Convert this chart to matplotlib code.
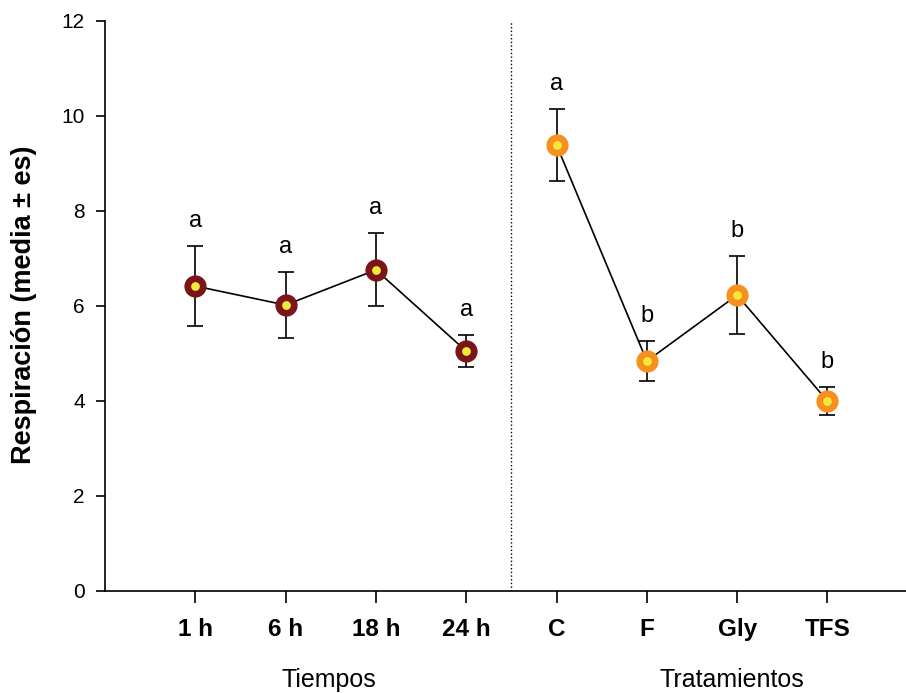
import matplotlib.pyplot as plt
import numpy as np

plt.rcParams['font.family'] = ['Liberation Sans', 'DejaVu Sans']

# datos
categorias = ["1 h", "6 h", "18 h", "24 h", "C", "F", "Gly", "TFS"]
tiempos_media = [6.42, 6.02, 6.76, 5.05]
tiempos_es = [0.85, 0.69, 0.77, 0.34]
trat_media = [9.39, 4.84, 6.23, 4.00]
trat_es = [0.75, 0.42, 0.83, 0.29]
letras_tiempos = ["a", "a", "a", "a"]
letras_trat = ["a", "b", "b", "b"]

fig = plt.figure(figsize=(9.06, 6.93), dpi=100)
ax = fig.add_axes([0.1159, 0.1472, 0.8841, 0.8225])

x_t = np.arange(1, 5)
x_r = np.arange(5, 9)

def grupo(x, media, es, color, letras):
    ax.errorbar(x, media, yerr=es, color='black', lw=1.2, capsize=6, capthick=1.2,
                zorder=2)
    ax.plot(x, media, 'o', ms=16, mfc=color, mec='none', zorder=3)
    ax.plot(x, media, 'o', ms=6.3, mfc='#f2e93a', mec='none', zorder=4)
    for xi, m, e, l in zip(x, media, es, letras):
        ax.text(xi, m + e + 0.4, l, ha='center', va='baseline', fontsize=17)

grupo(x_t, tiempos_media, tiempos_es, '#7a1518', letras_tiempos)
grupo(x_r, trat_media, trat_es, '#f6901e', letras_trat)

ax.axvline(4.5, color='black', ls=':', lw=1)

ax.set_xlim(0, 8.87)
ax.set_ylim(0, 12)
ax.set_yticks(range(0, 13, 2))
ax.set_xticks(range(1, 9))
ax.set_xticklabels(categorias, fontsize=17.5, fontweight='bold')
ax.tick_params(axis='x', length=8.6, width=1.2, pad=11)
ax.tick_params(axis='y', length=6.5, width=1.2, labelsize=15, pad=8)
for lado in ['top', 'right']:
    ax.spines[lado].set_visible(False)
for lado in ['left', 'bottom']:
    ax.spines[lado].set_linewidth(1.2)

fig.text(11 / 906, 1 - 305 / 693, "Respiración (media ± es)", rotation=90,
         ha='left', va='center', fontsize=19.5, fontweight='bold')

fig.text(329 / 906, 1 - 687 / 693, "Tiempos", ha='center', va='baseline', fontsize=18)
fig.text(732 / 906, 1 - 687 / 693, "Tratamientos", ha='center', va='baseline', fontsize=18)

fig.savefig("out.png", dpi=100)
